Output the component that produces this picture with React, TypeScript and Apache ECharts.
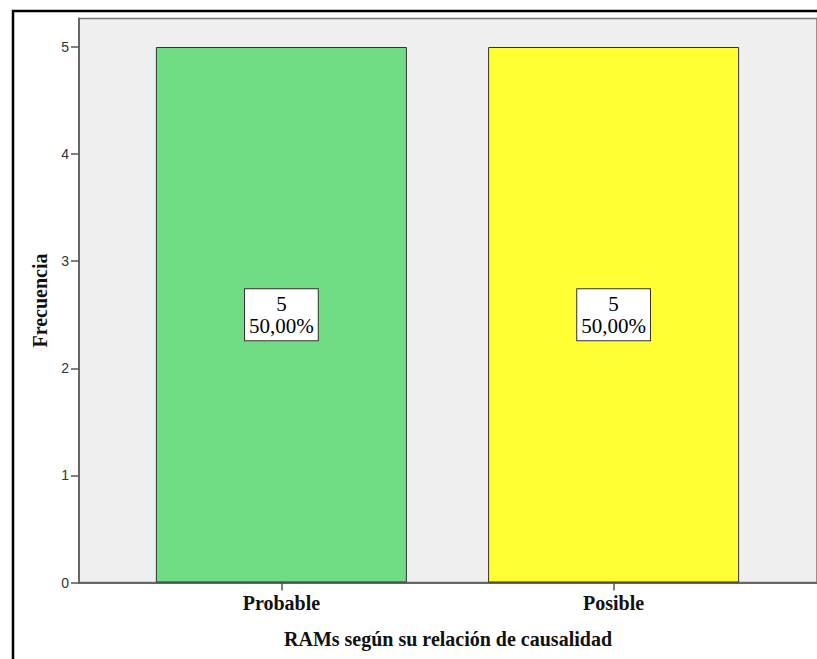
import React, { useEffect, useRef } from "react";
import * as echarts from "echarts";

const categories = ["Probable", "Posible"];
const counts = [5, 5];
const percents = ["50,00%", "50,00%"];
const yAxisTitle = "Frecuencia";
const xAxisTitle = "RAMs según su relación de causalidad";

export default function App() {
  const ref = useRef<HTMLDivElement>(null);
  useEffect(() => {
    if (!ref.current) return;
    const chart = echarts.init(ref.current, undefined, { renderer: "svg" });
    const barColors = ["#70DC84", "#FFFF33"];
    const serif = "Liberation Serif";
    chart.setOption({
      animation: false,
      backgroundColor: "#ffffff",
      graphic: [
        {
          type: "rect",
          shape: { x: 13, y: 11, width: 900, height: 800 },
          style: { fill: "none", stroke: "#000", lineWidth: 2.5 },
          z: 100,
          silent: true,
        },
      ],
      grid: {
        left: 79,
        top: 18.5,
        width: 742,
        bottom: 76.5,
        show: true,
        backgroundColor: "#EFEFEF",
        borderColor: "#777",
        borderWidth: 1.5,
      },
      xAxis: {
        type: "value",
        min: 1 - 203.5 / 334,
        max: 2 + 204.5 / 334,
        splitLine: { show: false },
        axisLine: { show: true, onZero: false, lineStyle: { color: "#666", width: 2 } },
        axisTick: {
          show: true,
          customValues: [1, 2],
          length: 8,
          lineStyle: { color: "#555", width: 1.5 },
        },
        axisLabel: {
          customValues: [1, 2],
          formatter: (v: number) => categories[Math.round(v) - 1] ?? "",
          fontFamily: serif,
          fontWeight: "bold",
          fontSize: 20,
          color: "#111",
          margin: 10,
        },
        name: xAxisTitle,
        nameLocation: "middle",
        nameGap: 46,
        nameTextStyle: { fontFamily: serif, fontWeight: "bold", fontSize: 20, color: "#111" },
      },
      yAxis: {
        type: "value",
        min: 0,
        max: 5 + 28.5 / 107.1,
        interval: 1,
        splitLine: { show: false },
        axisLine: { show: true, lineStyle: { color: "#666", width: 2 } },
        axisTick: { show: true, length: 8, lineStyle: { color: "#555", width: 1.5 } },
        axisLabel: {
          fontFamily: "Liberation Sans",
          fontSize: 14,
          color: "#333",
          margin: 10,
          showMaxLabel: false,
          formatter: (v: number) => (Number.isInteger(v) ? String(v) : ""),
        },
        name: yAxisTitle,
        nameLocation: "middle",
        nameGap: 29,
        nameTextStyle: { fontFamily: serif, fontWeight: "bold", fontSize: 20, color: "#111" },
      },
      series: [
        {
          type: "bar",
          barWidth: 251,
          data: categories.map((c, i) => ({
            name: c,
            value: [i + 1, counts[i]],
            itemStyle: { color: barColors[i], borderColor: "#333", borderWidth: 1 },
          })),
          label: {
            show: true,
            position: "inside",
            formatter: (p: any) => `${counts[p.dataIndex]}\n${percents[p.dataIndex]}`,
            fontFamily: serif,
            fontSize: 21,
            lineHeight: 22,
            color: "#000",
            align: "center",
            backgroundColor: "#fff",
            borderColor: "#333",
            borderWidth: 1,
            padding: [3, 4, 4, 4],
          },
        },
      ],
    });
    return () => chart.dispose();
  }, []);
  return (
    <div
      ref={ref}
      style={{ position: "fixed", left: 0, top: 0, width: 817, height: 659 }}
    />
  );
}
